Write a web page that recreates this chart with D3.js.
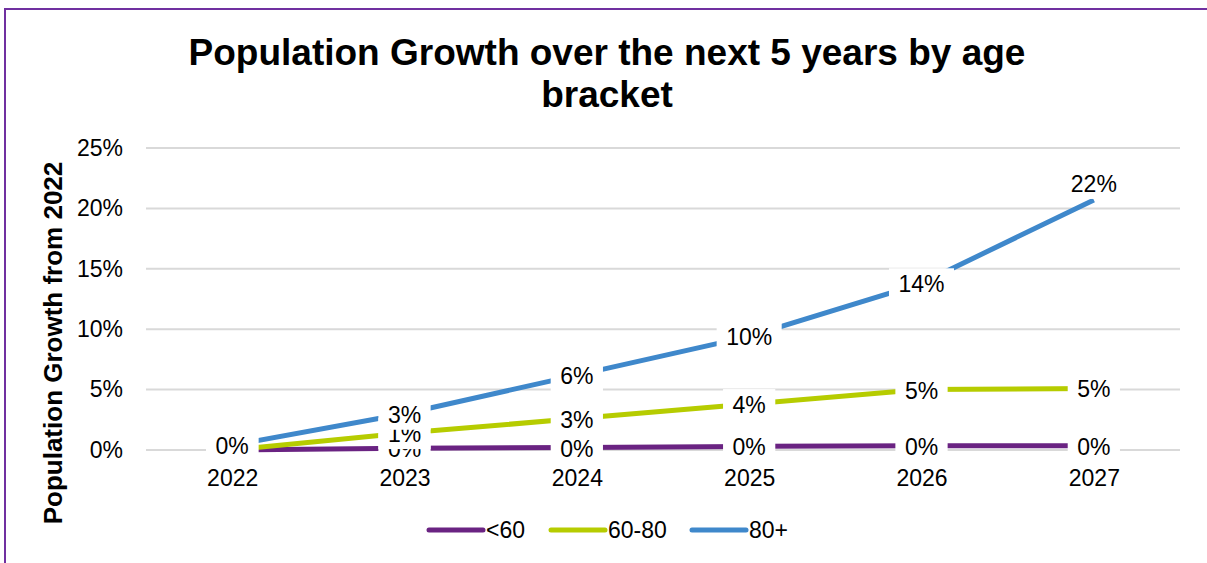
<!DOCTYPE html>
<html><head><meta charset="utf-8">
<script src="https://cdn.jsdelivr.net/npm/d3@7"></script>
<style>body{margin:0;background:#fff;}svg{display:block;font-family:"Liberation Sans",Arial,sans-serif;}</style>
</head><body>
<svg id="c" width="1207" height="563"></svg>
<script>
const years = ["2022","2023","2024","2025","2026","2027"];
const seriesNames = ["<60","60-80","80+"];
const under60 = [0.0, 0.15, 0.2, 0.3, 0.35, 0.35];
const age60to80 = [0.0, 1.4, 2.6, 3.8, 5.0, 5.1];
const over80 = [0.4, 3.0, 6.2, 9.4, 13.8, 20.7];
const under60Labels = ["0%","0%","0%","0%","0%","0%"];
const age60to80Labels = ["0%","1%","3%","4%","5%","5%"];
const over80Labels = ["0%","3%","6%","10%","14%","22%"];
const yTicks = [0,5,10,15,20,25];
const colors = ["#6A2382","#B6CC00","#3F88CB"];

const series = [
  {name: seriesNames[0], values: under60, labels: under60Labels, color: colors[0]},
  {name: seriesNames[1], values: age60to80, labels: age60to80Labels, color: colors[1]},
  {name: seriesNames[2], values: over80, labels: over80Labels, color: colors[2]}
];

const FS = 23;
const svg = d3.select("#c");
svg.append("rect").attr("x",5).attr("y",9).attr("width",1210).attr("height",570)
  .attr("fill","#fff").attr("stroke","#7030A0").attr("stroke-width",2);

const x = d3.scalePoint().domain(years).range([146,1180]).padding(0.5);
const y = d3.scaleLinear().domain([0,25]).range([450,148]);

// title
const title = svg.append("text").attr("text-anchor","middle").attr("font-weight","bold")
  .attr("font-size",37).attr("fill","#000");
title.append("tspan").attr("x",607).attr("y",65).text("Population Growth over the next 5 years by age");
title.append("tspan").attr("x",607).attr("y",107).text("bracket");

// grid
svg.append("g").selectAll("line").data(yTicks).join("line")
  .attr("x1",146).attr("x2",1180).attr("y1",d=>y(d)).attr("y2",d=>y(d))
  .attr("stroke","#D9D9D9").attr("stroke-width",2);

// y axis
const ya = svg.append("g").attr("transform","translate(146,0)")
  .call(d3.axisLeft(y).tickValues(yTicks).tickFormat(d=>d+"%").tickSize(0).tickPadding(23));
ya.select(".domain").remove();
ya.selectAll("text").attr("font-size",FS).attr("fill","#000").attr("font-family","Liberation Sans, Arial, sans-serif");

// x axis
const xa = svg.append("g").attr("transform","translate(0,450)")
  .call(d3.axisBottom(x).tickSize(0).tickPadding(20));
xa.select(".domain").remove();
xa.selectAll("text").attr("font-size",FS).attr("fill","#000").attr("font-family","Liberation Sans, Arial, sans-serif");

// y title
svg.append("text").attr("transform","translate(62,343) rotate(-90)").attr("text-anchor","middle")
  .attr("font-weight","bold").attr("font-size",26).attr("fill","#000").text("Population Growth from 2022");

// lines
const line = d3.line().x((d,i)=>x(years[i])).y(d=>y(d));
svg.append("g").selectAll("path").data(series).join("path")
  .attr("d",s=>line(s.values)).attr("fill","none").attr("stroke",s=>s.color)
  .attr("stroke-width",5);

// labels
series.forEach(s=>{
  const g = svg.append("g");
  s.values.forEach((v,i)=>{
    const cx = x(years[i]);
    let cy = y(v);
    if (s.name==="80+" && i===years.length-1) cy -= 17;
    const t = s.labels[i];
    const rect = g.append("rect").attr("fill","#fff");
    const txt = g.append("text").attr("x",cx).attr("y",cy+9).attr("text-anchor","middle")
      .attr("font-size",FS).attr("fill","#000").text(t);
    const w = txt.node().getComputedTextLength() + 19;
    rect.attr("x",cx-w/2).attr("y",cy-15).attr("width",w).attr("height",31);
  });
});

// legend
const legX = [429,551,692];
const lg = svg.append("g");
series.forEach((s,i)=>{
  lg.append("line").attr("x1",legX[i]).attr("x2",legX[i]+54).attr("y1",530).attr("y2",530)
    .attr("stroke",s.color).attr("stroke-width",5).attr("stroke-linecap","round");
  lg.append("text").attr("x",legX[i]+57).attr("y",538).attr("font-size",FS).attr("fill","#000").text(s.name);
});
</script>
</body></html>
